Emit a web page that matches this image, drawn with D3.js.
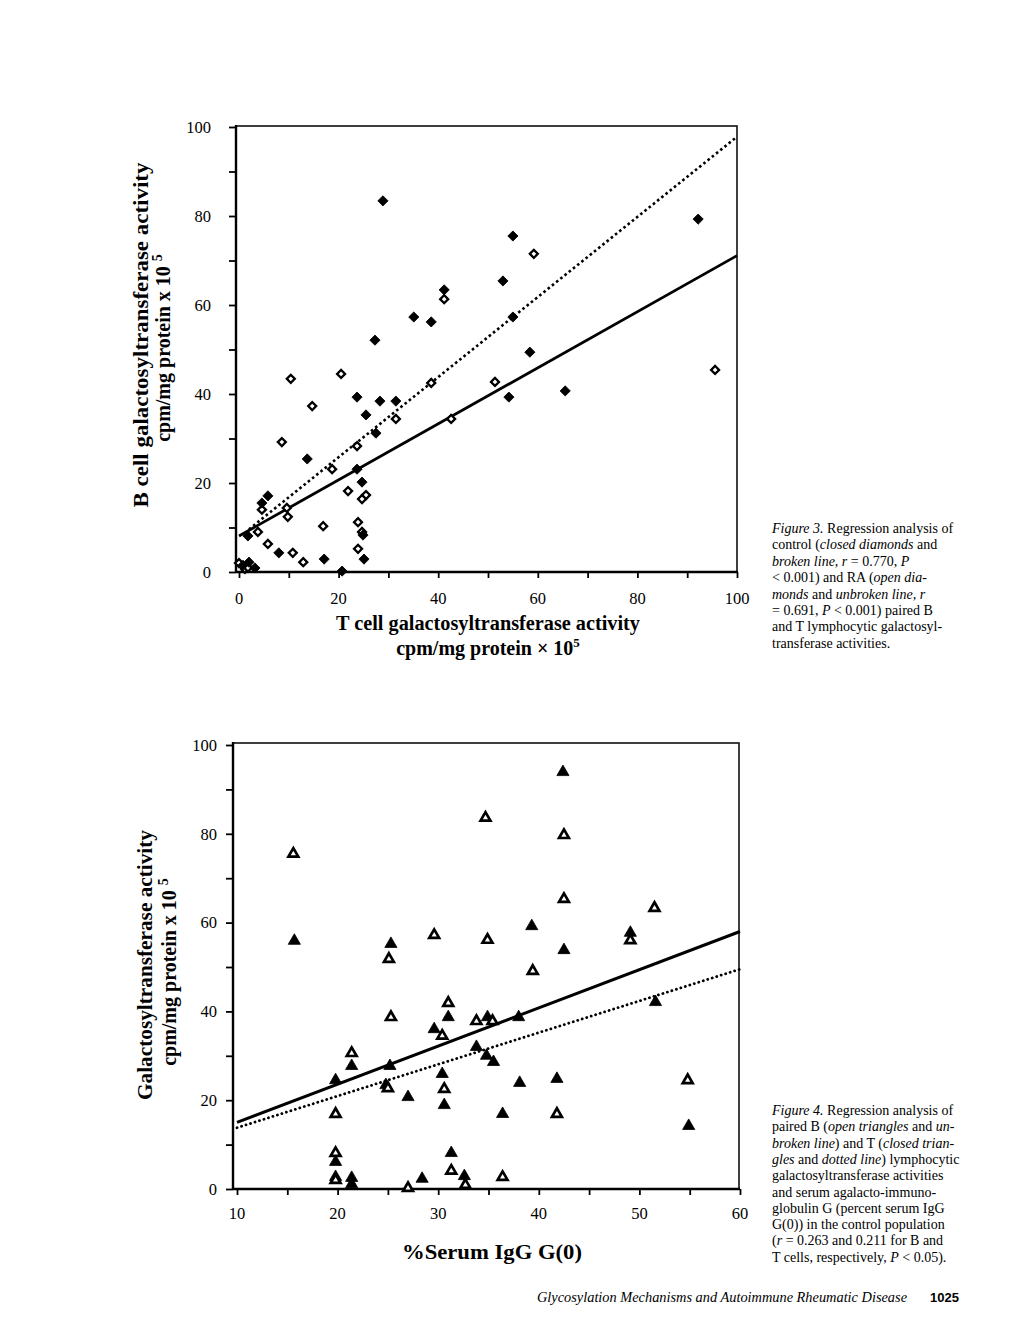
<!DOCTYPE html>
<html><head><meta charset="utf-8">
<script src="https://cdn.jsdelivr.net/npm/d3@7"></script>
<style>body{margin:0;background:#fff}svg{display:block}</style>
</head><body>
<script>
// ---------- DATA ----------
// Figure 3: T cell (x) vs B cell (y) galactosyltransferase activity
const fig3Control = [ // closed diamonds
  [28.9,83.4],[41.2,63.4],[35.1,57.3],[38.6,56.2],[27.3,52.1],[55.0,75.5],[53.0,65.4],[55.0,57.3],
  [92.2,79.3],[58.4,49.4],[54.2,39.3],[65.5,40.7],[23.7,39.3],[28.3,38.4],[31.5,38.4],[25.5,35.3],
  [27.5,31.2],[13.7,25.4],[23.7,23.1],[24.7,20.2],[5.8,17.1],[4.6,15.5],[1.8,8.1],[8.0,4.3],
  [17.1,2.9],[24.9,8.3],[25.1,2.9],[20.7,0.2],[2.0,2.2],[3.2,0.9],[0.8,1.5]
];
const fig3RA = [ // open diamonds
  [41.2,61.3],[59.2,71.5],[51.4,42.7],[95.6,45.4],[10.4,43.4],[20.5,44.5],[14.7,37.3],[31.5,34.4],
  [38.6,42.5],[42.6,34.4],[23.7,28.3],[8.6,29.2],[18.7,23.1],[21.9,18.2],[25.5,17.3],[24.7,16.4],
  [4.6,14.0],[9.6,14.4],[9.8,12.4],[3.8,9.0],[5.8,6.3],[10.8,4.3],[12.9,2.2],[16.9,10.3],
  [23.9,11.2],[24.7,9.0],[23.9,5.2],[0,2.0],[1.2,0.7],[1.8,1.0]
];
// regression lines: [x0, y0, x1, y1]
const fig3ControlLine = [2, 9.6, 100, 97.8];   // broken line
const fig3RALine = [0, 8.1, 100, 71.1];        // unbroken line
const fig3XTicks = [0,20,40,60,80,100];
const fig3YTicks = [0,20,40,60,80,100];

// Figure 4: %Serum IgG G(0) (x) vs galactosyltransferase activity (y)
const fig4B = [ // open triangles
  [15.6,75.5],[25.1,51.8],[29.6,57.2],[34.7,83.6],[34.9,56.1],[42.5,79.7],[42.5,65.3],[51.5,63.3],
  [49.1,56.0],[31.0,41.9],[25.3,38.7],[33.8,37.8],[30.4,34.5],[21.4,30.6],[25.0,22.7],[30.6,22.5],
  [19.8,16.9],[19.8,8.1],[19.8,2.0],[27.0,0.2],[31.3,4.1],[32.7,0.9],[39.4,49.1],[35.4,37.8],
  [54.8,24.5],[41.8,16.9],[36.4,2.7]
];
const fig4T = [ // closed triangles
  [15.7,55.9],[25.3,55.2],[42.4,93.9],[39.3,59.2],[42.5,53.8],[49.1,57.7],[31.0,38.7],[29.6,36.0],
  [33.8,32.0],[21.4,27.7],[25.2,27.7],[19.8,24.5],[24.8,23.4],[30.4,25.9],[27.0,20.7],[30.6,18.9],
  [19.8,6.1],[19.8,2.7],[21.4,2.5],[21.4,1.1],[28.4,2.3],[31.3,8.1],[32.6,2.9],[34.9,38.7],
  [38.0,38.7],[51.6,42.1],[34.8,30.0],[35.5,28.6],[38.1,23.9],[41.8,24.8],[36.4,16.9],[54.9,14.2]
];
const fig4BLine = [10, 15.0, 60, 58.0];  // unbroken line
const fig4TLine = [10, 13.8, 60, 49.5];  // dotted line
const fig4XTicks = [10,20,30,40,50,60];
const fig4YTicks = [0,20,40,60,80,100];

const fig3Caption = [
  [["Figure 3.","i"],[" Regression analysis of",""]],
  [["control (",""],["closed diamonds","i"],[" and",""]],
  [["broken line, r","i"],[" = 0.770, ",""],["P","i"]],
  [["< 0.001) and RA (",""],["open dia-","i"]],
  [["monds","i"],[" and ",""],["unbroken line, r","i"]],
  [["= 0.691, ",""],["P","i"],[" < 0.001) paired B",""]],
  [["and T lymphocytic galactosyl-",""]],
  [["transferase activities.",""]]
];
const fig4Caption = [
  [["Figure 4.","i"],[" Regression analysis of",""]],
  [["paired B (",""],["open triangles","i"],[" and ",""],["un-","i"]],
  [["broken line","i"],[") and T (",""],["closed trian-","i"]],
  [["gles","i"],[" and ",""],["dotted line","i"],[") lymphocytic",""]],
  [["galactosyltransferase activities",""]],
  [["and serum agalacto-immuno-",""]],
  [["globulin G (percent serum IgG",""]],
  [["G(0)) in the control population",""]],
  [["(",""],["r","i"],[" = 0.263 and 0.211 for B and",""]],
  [["T cells, respectively, ",""],["P","i"],[" < 0.05).",""]]
];

// ---------- DRAW ----------
const W = 1020, H = 1320;
const svg = d3.select("body").append("svg").attr("width", W).attr("height", H);
const serif = "'Liberation Serif','Times New Roman',serif";

function panel(opt) {
  const g = svg.append("g");
  const x = d3.scaleLinear().domain(opt.xDomain).range(opt.xRange);
  const y = d3.scaleLinear().domain([0,100]).range(opt.yRange);
  const f = opt.frame; // [left, top, right, bottom]

  // frame
  g.append("rect").attr("x", f[0]).attr("y", f[1]).attr("width", f[2]-f[0]).attr("height", f[3]-f[1])
    .attr("fill","none").attr("stroke","#111").attr("stroke-width",1.6);
  g.append("line").attr("x1",f[0]).attr("x2",f[0]).attr("y1",f[1]-1).attr("y2",f[3]+1).attr("stroke","#000").attr("stroke-width",2.4);
  g.append("line").attr("x1",f[0]).attr("x2",f[2]+1).attr("y1",f[3]).attr("y2",f[3]).attr("stroke","#000").attr("stroke-width",2.4);

  // y axis ticks (major+minor) via d3 axis
  const yMinor = d3.range(0, 101, 10);
  const yAx = g.append("g").attr("transform", `translate(${f[0]},0)`)
    .call(d3.axisLeft(y).tickValues(yMinor).tickSize(7).tickFormat(""));
  yAx.select(".domain").remove();
  yAx.selectAll("line").attr("stroke","#000").attr("stroke-width",1.8);
  g.selectAll(".ylab").data(opt.yTicks).enter().append("text")
    .attr("x", opt.yLabX).attr("y", d => y(d)).attr("dy","0.35em")
    .attr("text-anchor","end").attr("font-family",serif).attr("font-size",16.5).text(d => d);

  // x axis ticks
  const step = (opt.xDomain[1]-opt.xDomain[0])/10;
  const xMinor = d3.range(0, 11).map(i => opt.xDomain[0] + i*step);
  const xAx = g.append("g").attr("transform", `translate(0,${f[3]})`)
    .call(d3.axisBottom(x).tickValues(xMinor).tickSize(6).tickFormat(""));
  xAx.select(".domain").remove();
  xAx.selectAll("line").attr("stroke","#000").attr("stroke-width",1.8);
  g.selectAll(".xlab").data(opt.xTicks).enter().append("text")
    .attr("x", d => x(d)).attr("y", opt.xLabY).attr("dy","0.35em")
    .attr("text-anchor","middle").attr("font-family",serif).attr("font-size",16.5).text(d => d);

  // regression lines
  opt.lines.forEach(L => {
    g.append("line").attr("x1", x(L.d[0])).attr("y1", y(L.d[1])).attr("x2", x(L.d[2])).attr("y2", y(L.d[3]))
      .attr("stroke","#000").attr("stroke-width", L.w).attr("stroke-dasharray", L.dash || null)
      .attr("stroke-linecap", L.cap || "butt");
  });

  // points
  opt.series.forEach(S => {
    g.selectAll(null).data(S.data).enter().append("path")
      .attr("d", d3.symbol().type(S.type).size(S.size)())
      .attr("transform", d => `translate(${x(d[0])},${y(d[1])}) rotate(${S.rot||0})`)
      .attr("fill", S.open ? "#fff" : "#000")
      .attr("stroke","#000").attr("stroke-width", S.open ? S.sw : 0.8)
      .attr("stroke-linejoin","miter");
  });
  return {x, y};
}

// Figure 3
panel({
  xDomain:[0,100], xRange:[239,737], yRange:[572,127],
  frame:[236,126,737,572], yLabX:211, xLabY:598,
  xTicks: fig3XTicks, yTicks: fig3YTicks,
  lines:[
    {d: fig3ControlLine, w:2.6, dash:"2.6,2.8"},
    {d: fig3RALine, w:2.8}
  ],
  series:[
    {data: fig3RA, type: d3.symbolSquare, size: 32, rot:45, open:true, sw:2.3},
    {data: fig3Control, type: d3.symbolSquare, size: 52, rot:45, open:false}
  ]
});

// Figure 4
panel({
  xDomain:[10,60], xRange:[237,740], yRange:[1189,745],
  frame:[233,743,739,1189], yLabX:217, xLabY:1213,
  xTicks: fig4XTicks, yTicks: fig4YTicks,
  lines:[
    {d: fig4TLine, w:2.8, dash:"0.1,4.6", cap:"round"},
    {d: fig4BLine, w:3}
  ],
  series:[
    {data: fig4T, type: d3.symbolTriangle, size: 64, open:false},
    {data: fig4B, type: d3.symbolTriangle, size: 42, open:true, sw:2.7}
  ]
});

// axis titles
function bold(x, y, size, rot, len) {
  const t = svg.append("text").attr("font-family", serif).attr("font-weight","bold")
    .attr("font-size", size).attr("text-anchor","middle")
    .attr("transform", `translate(${x},${y}) rotate(${rot||0})`);
  if (len) t.attr("textLength", len).attr("lengthAdjust","spacingAndGlyphs");
  return t;
}
bold(488, 630, 20, 0, 304).text("T cell galactosyltransferase activity");
{
  const t = bold(488, 655, 20, 0, 0);
  t.append("tspan").text("cpm/mg protein × 10");
  t.append("tspan").attr("font-size",13).attr("dy",-8).text("5");
}
bold(148, 335, 21, -90, 345).text("B cell galactosyltransferase activity");
{
  const t = bold(170, 348, 20, -90, 0);
  t.append("tspan").text("cpm/mg protein x 10 ");
  t.append("tspan").attr("font-size",14).attr("dy",-8).text("5");
}
bold(152, 965, 21, -90, 270).text("Galactosyltransferase activity");
{
  const t = bold(176, 972, 20, -90, 0);
  t.append("tspan").text("cpm/mg protein x 10 ");
  t.append("tspan").attr("font-size",14).attr("dy",-8).text("5");
}
bold(492, 1259, 22, 0, 180).text("%Serum IgG G(0)");

// captions
function caption(x, y0, lh, lines) {
  lines.forEach((ln, i) => {
    const t = svg.append("text").attr("x", x).attr("y", y0 + i*lh)
      .attr("font-family", serif).attr("font-size", 14);
    ln.forEach(seg => t.append("tspan").attr("font-style", seg[1]==="i" ? "italic" : null).text(seg[0]));
  });
}
caption(772, 533, 16.4, fig3Caption);
caption(772, 1115, 16.3, fig4Caption);

// footer
svg.append("text").attr("x", 537).attr("y", 1302).attr("font-family", serif).attr("font-style","italic")
  .attr("font-size", 14).attr("textLength", 370).attr("lengthAdjust","spacingAndGlyphs")
  .text("Glycosylation Mechanisms and Autoimmune Rheumatic Disease");
svg.append("text").attr("x", 930).attr("y", 1302).attr("font-family","'Liberation Sans',Arial,sans-serif")
  .attr("font-weight","bold").attr("font-size", 13).text("1025");
</script>
</body></html>
